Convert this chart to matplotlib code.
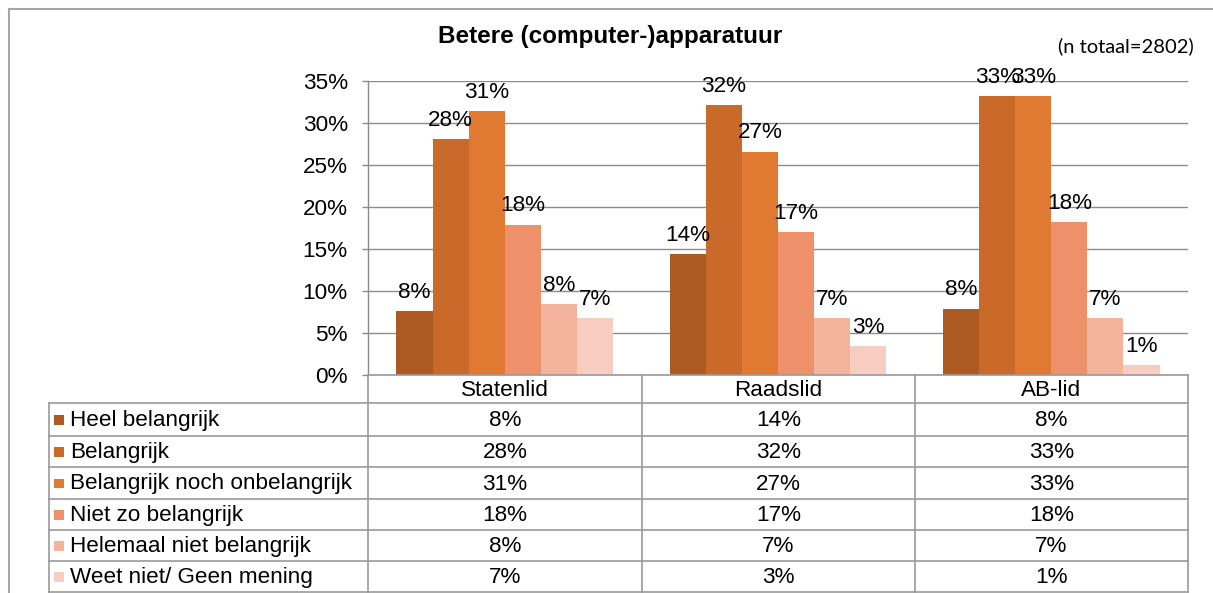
import matplotlib
matplotlib.use("Agg")
import matplotlib.pyplot as plt
from matplotlib.lines import Line2D
from matplotlib.patches import Rectangle

plt.rcParams['font.family'] = ['Liberation Sans', 'DejaVu Sans']

# --- data -------------------------------------------------------------
title = "Betere (computer-)apparatuur"
note = "(n totaal=2802)"
categories = ["Statenlid", "Raadslid", "AB-lid"]
answers = [
    "Heel belangrijk",
    "Belangrijk",
    "Belangrijk noch onbelangrijk",
    "Niet zo belangrijk",
    "Helemaal niet belangrijk",
    "Weet niet/ Geen mening",
]
heel_belangrijk = [7.6, 14.4, 7.9]
belangrijk = [28.1, 32.1, 33.2]
neutraal = [31.4, 26.6, 33.2]
niet_zo_belangrijk = [17.9, 17.0, 18.2]
helemaal_niet = [8.4, 6.8, 6.8]
weet_niet = [6.8, 3.4, 1.2]
yticks = [0, 5, 10, 15, 20, 25, 30, 35]

series = [heel_belangrijk, belangrijk, neutraal,
          niet_zo_belangrijk, helemaal_niet, weet_niet]
colors = ["#AD5A22", "#C96A2B", "#E07A32", "#EE916A", "#F3B39C", "#F6CDC0"]

FS = 16.2

# --- figure -----------------------------------------------------------
W, H = 1213, 593
fig = plt.figure(figsize=(W / 100, H / 100), dpi=100)

def fx(px):
    return px / W

def fy(py):
    return 1 - py / H

x_left, x_right = 368, 1188
y_top, y_zero = 81, 375
ax = fig.add_axes([fx(x_left), fy(y_zero), fx(x_right - x_left), (y_zero - y_top) / H])

n = len(series)
bar_w = 0.132
grid_c = "#8C8C8C"
for k, (vals, c) in enumerate(zip(series, colors)):
    xs = [i + 0.5 + (k - (n - 1) / 2) * bar_w for i in range(len(categories))]
    ax.bar(xs, vals, width=bar_w, color=c, edgecolor="none", zorder=3)
    for x, v in zip(xs, vals):
        ax.annotate(f"{round(v)}%", (x, v), xytext=(0, 6), textcoords="offset points",
                    ha="center", va="bottom", fontsize=FS, color="black", zorder=4)

ax.set_xlim(0, len(categories))
ax.set_ylim(0, 35)
ax.set_yticks(yticks)
ax.set_yticklabels([f"{t}%" for t in yticks], fontsize=FS)
ax.set_xticks([])
ax.tick_params(axis="y", length=4.5, width=1, color=grid_c, pad=10)
ax.grid(axis="y", color=grid_c, linewidth=1, zorder=0)
ax.set_axisbelow(True)
for s in ["top", "right", "bottom"]:
    ax.spines[s].set_visible(False)
ax.spines["left"].set_color(grid_c)
ax.spines["left"].set_linewidth(1)
ax.patch.set_alpha(0)

# --- overlay in pixel coordinates for frame, title and data table ----
ov = fig.add_axes([0, 0, 1, 1], zorder=-1)
ov.set_xlim(0, W)
ov.set_ylim(H, 0)
ov.axis("off")
ov.patch.set_alpha(0)

frame_c = "#A6A6A6"
ov.add_line(Line2D([9, W], [8.5, 8.5], color=frame_c, lw=1.5))
ov.add_line(Line2D([9, 9], [8.5, H], color=frame_c, lw=1.5))

fig.text(fx(610), fy(36), title, ha="center", va="center", fontsize=17.5,
         fontweight="bold")
fig.text(fx(1194), fy(46), note, ha="right", va="center", fontsize=14.5,
         family=["Lato", "DejaVu Sans"])

tab = fig.add_axes([0, 0, 1, 1], zorder=2)
tab.set_xlim(0, W)
tab.set_ylim(H, 0)
tab.axis("off")
tab.patch.set_alpha(0)

line_c = "#9A9A9A"
col_x = [368, 642, 915, 1188]
row_y = [375, 403, 436, 467, 499, 530, 561, 592]
tab_left = 49

# horizontal rules
tab.add_line(Line2D([col_x[0], col_x[-1]], [row_y[0], row_y[0]], color=line_c, lw=1.2))
for y in row_y[1:]:
    tab.add_line(Line2D([tab_left, col_x[-1]], [y, y], color=line_c, lw=1.2))
# vertical rules
for x in col_x:
    tab.add_line(Line2D([x, x], [row_y[0], row_y[-1]], color=line_c, lw=1.2))
tab.add_line(Line2D([tab_left, tab_left], [row_y[1], row_y[-1]], color=line_c, lw=1.2))

# category header
for j, cat in enumerate(categories):
    cx = (col_x[j] + col_x[j + 1]) / 2
    tab.text(cx, (row_y[0] + row_y[1]) / 2 + 1, cat, ha="center", va="center",
             fontsize=FS)

# rows with legend keys
for r, (name, vals, c) in enumerate(zip(answers, series, colors)):
    y0, y1 = row_y[r + 1], row_y[r + 2]
    cy = (y0 + y1) / 2
    tab.add_patch(Rectangle((54, cy - 4.5), 9.5, 9.5, facecolor=c, edgecolor="none"))
    tab.text(70, cy + 1, name, ha="left", va="center", fontsize=FS)
    for j, v in enumerate(vals):
        cx = (col_x[j] + col_x[j + 1]) / 2
        tab.text(cx, cy + 1, f"{round(v)}%", ha="center", va="center", fontsize=FS)

fig.savefig("out.png", dpi=100, facecolor="white")
